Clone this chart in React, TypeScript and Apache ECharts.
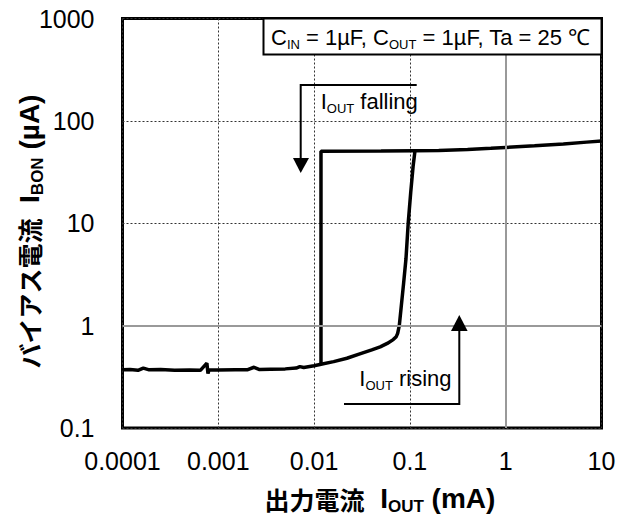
import React, { useEffect, useRef } from "react";
import * as echarts from "echarts";

const xTickLabels = ["0.0001", "0.001", "0.01", "0.1", "1", "10"];
const yTickLabels = ["0.1", "1", "10", "100", "1000"];

// I_OUT rising: low-current branch, then jump to the high bias level
const risingX = [
  0.0001, 0.00012, 0.000145, 0.000165, 0.00019, 0.00025, 0.00035, 0.0005, 0.00065,
  0.00076, 0.00078, 0.0008, 0.001, 0.0015, 0.002, 0.00236, 0.0027, 0.0035, 0.005,
  0.0065, 0.0071, 0.0078, 0.01, 0.0118, 0.016, 0.022, 0.03, 0.04, 0.049, 0.058,
  0.067, 0.072, 0.0745, 0.0775, 0.081, 0.086, 0.091, 0.096, 0.102, 0.108, 0.113,
  0.2, 0.4, 0.7, 1, 2, 4, 7, 10,
];
const risingY = [
  0.37, 0.372, 0.366, 0.385, 0.37, 0.372, 0.366, 0.368, 0.366,
  0.43, 0.34, 0.368, 0.368, 0.37, 0.37, 0.392, 0.372, 0.375, 0.378,
  0.385, 0.398, 0.39, 0.405, 0.42, 0.445, 0.48, 0.53, 0.58, 0.62, 0.67,
  0.73, 0.78, 0.84, 1.0, 1.5, 2.6, 4.5, 10, 20, 36, 51,
  51.5, 52.5, 54, 55, 57, 59.5, 62, 63.5,
];

// I_OUT falling: stays high until ~0.012 mA, then drops
const fallingX = [0.113, 0.05, 0.0118, 0.0118];
const fallingY = [51, 50.7, 50.5, 0.42];

const solidGridX = [1];
const solidGridY = [1];

const LAT = "'Liberation Sans', Arial, Helvetica, sans-serif";
const CJK = "'Noto Sans CJK JP', 'Noto Sans CJK SC', sans-serif";

export default function App() {
  const ref = useRef<HTMLDivElement>(null);

  useEffect(() => {
    if (!ref.current) return;
    const chart = echarts.init(ref.current, undefined, { renderer: "svg" });

    const annRich = {
      m: { fontSize: 22, fontFamily: LAT, color: "#000" },
      s: { fontSize: 13, fontFamily: LAT, color: "#000", padding: [14, 0, 0, 0] },
    };
    const titleRich = {
      c: { fontSize: 25, fontFamily: CJK, fontWeight: "bold", color: "#000" },
      m: { fontSize: 28, fontFamily: LAT, fontWeight: "bold", color: "#000" },
      s: { fontSize: 17, fontFamily: LAT, fontWeight: "bold", color: "#000", padding: [16, 0, 0, 0] },
    };

    const option: any = {
      animation: false,
      backgroundColor: "#fff",
      grid: {
        left: 122.5,
        right: 29.5,
        top: 18.5,
        bottom: 94,
        show: true,
        borderColor: "#000",
        borderWidth: 3,
        backgroundColor: "transparent",
      },
      xAxis: {
        type: "log",
        logBase: 10,
        min: 0.0001,
        max: 10,
        axisLine: { show: false },
        axisTick: { show: false },
        axisLabel: {
          margin: 20,
          fontSize: 25,
          fontFamily: LAT,
          color: "#000",
          formatter: (v: number) => xTickLabels[Math.round(Math.log10(v)) + 4] ?? "",
        },
        splitLine: { show: true, lineStyle: { color: "#333", width: 1, type: [2, 2] } },
        name: "{c|出力電流}{m|  I}{s|OUT}{m| (mA)}",
        nameLocation: "middle",
        nameGap: 54,
        nameTextStyle: {
          padding: [0, 0, 0, 36],
          rich: titleRich,
        },
      },
      yAxis: {
        type: "log",
        logBase: 10,
        min: 0.1,
        max: 1000,
        axisLine: { show: false },
        axisTick: { show: false },
        axisLabel: {
          margin: 28,
          fontSize: 25,
          fontFamily: LAT,
          color: "#000",
          formatter: (v: number) => yTickLabels[Math.round(Math.log10(v)) + 1] ?? "",
        },
        splitLine: { show: true, lineStyle: { color: "#333", width: 1, type: [2, 2] } },
      },
      series: [
        {
          type: "line",
          name: "grid",
          data: [],
          z: 1,
          silent: true,
          markLine: {
            silent: true,
            symbol: "none",
            label: { show: false },
            lineStyle: { color: "#999", width: 2, type: "solid" },
            data: [
              ...solidGridX.map((v) => ({ xAxis: v })),
              ...solidGridY.map((v) => ({ yAxis: v })),
            ],
          },
        },
        {
          type: "line",
          name: "IOUT rising",
          data: risingX.map((x, i) => [x, risingY[i]]),
          showSymbol: false,
          symbol: "none",
          z: 3,
          lineStyle: { color: "#000", width: 3.5 },
        },
        {
          type: "line",
          name: "IOUT falling",
          data: fallingX.map((x, i) => [x, fallingY[i]]),
          showSymbol: false,
          symbol: "none",
          z: 3,
          lineStyle: { color: "#000", width: 3.5 },
        },
      ],
      graphic: [
        {
          type: "text",
          z: 101,
          x: 29,
          y: 231.5,
          rotation: Math.PI / 2,
          style: {
            text: "{c|バイアス電流}{m|  I}{s|BON}{m| (µA)}",
            rich: titleRich,
            align: "center",
            verticalAlign: "middle",
          },
        },
        {
          type: "rect",
          z: 100,
          shape: { x: 263.5, y: 18.5, width: 338, height: 36 },
          style: { fill: "#fff", stroke: "#000", lineWidth: 2 },
        },
        {
          type: "text",
          z: 101,
          x: 271,
          y: 37,
          style: {
            text: "{m|C}{s|IN}{m| = 1µF, C}{s|OUT}{m| = 1µF, Ta = 25 ℃}",
            rich: annRich,
            verticalAlign: "middle",
            align: "left",
          },
        },
        {
          type: "polyline",
          z: 100,
          shape: { points: [[416.7, 85], [300.7, 85], [300.7, 160]] },
          style: { stroke: "#000", lineWidth: 2, fill: null },
        },
        {
          type: "polygon",
          z: 100,
          shape: { points: [[293, 158], [309, 158], [300.7, 173]] },
          style: { fill: "#000" },
        },
        {
          type: "text",
          z: 101,
          x: 320.7,
          y: 101,
          style: {
            text: "{m|I}{s|OUT}{m| falling}",
            rich: annRich,
            verticalAlign: "middle",
            align: "left",
          },
        },
        {
          type: "polyline",
          z: 100,
          shape: { points: [[344, 404], [459.3, 404], [459.3, 330]] },
          style: { stroke: "#000", lineWidth: 2, fill: null },
        },
        {
          type: "polygon",
          z: 100,
          shape: { points: [[451, 331], [467.6, 331], [459.3, 315]] },
          style: { fill: "#000" },
        },
        {
          type: "text",
          z: 101,
          x: 359.3,
          y: 378.5,
          style: {
            text: "{m|I}{s|OUT}{m| rising}",
            rich: annRich,
            verticalAlign: "middle",
            align: "left",
          },
        },
      ],
    };

    chart.setOption(option);
    return () => chart.dispose();
  }, []);

  return (
    <div
      ref={ref}
      style={{ position: "fixed", left: 0, top: 0, width: 631, height: 522, background: "#fff" }}
    />
  );
}
